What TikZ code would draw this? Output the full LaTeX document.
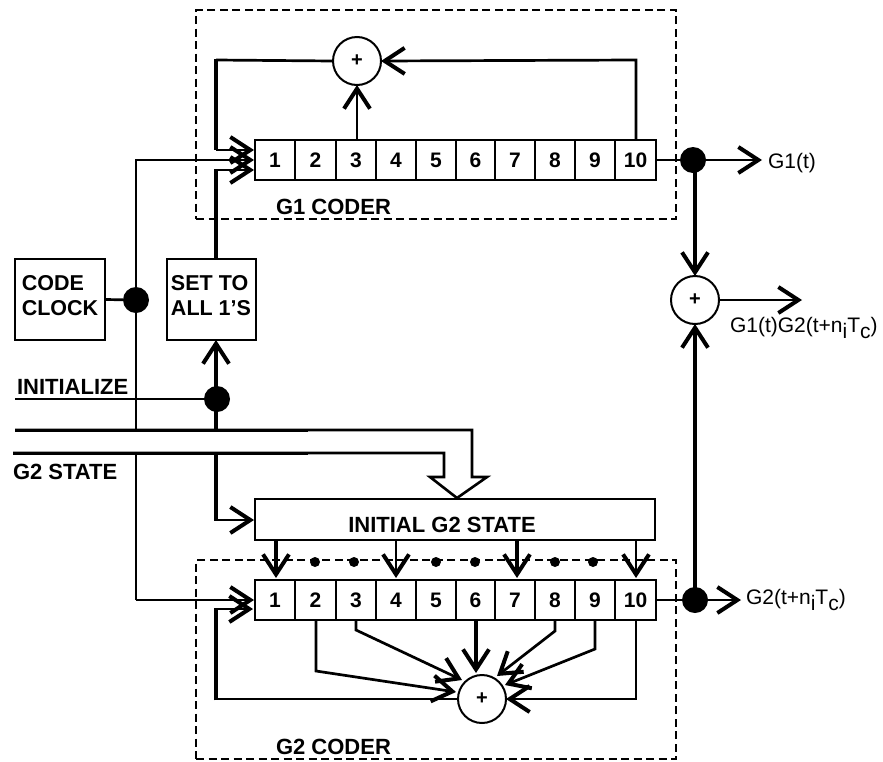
\documentclass[tikz,border=0pt]{standalone}
\usepackage{fontspec}
\setmainfont{Liberation Sans}
\usetikzlibrary{arrows.meta,calc}
\newcommand{\subtxt}[1]{\raisebox{-6pt}{#1}}
\tikzset{
  thin line/.style={line width=2.7pt},
  thick line/.style={line width=4.4pt},
  arr/.style={-{Straight Barb[length=20pt,width=26pt,line width=4pt]}},
  coder/.style={draw,line width=2.2pt,dash pattern=on 8pt off 4.5pt},
  cell/.style={draw,line width=2.6pt,minimum height=40pt,inner sep=0pt,outer sep=0pt,font=\fontsize{21}{21}\selectfont\bfseries},
  adder/.style={draw,circle,line width=2pt,fill=white,minimum size=48pt,inner sep=0pt,outer sep=0pt,font=\fontsize{20}{20}\selectfont\bfseries},
  bigdot/.style={fill=black,circle,minimum size=26pt,inner sep=0pt,outer sep=0pt},
  smalldot/.style={fill=black,circle,minimum size=10pt,inner sep=0pt,outer sep=0pt},
  ctl/.style={draw,line width=2.4pt,inner sep=0pt,outer sep=0pt},
  lbl/.style={inner sep=0pt,outer sep=0pt,font=\fontsize{22}{22}\selectfont\bfseries},
  outlbl/.style={inner sep=0pt,outer sep=0pt,anchor=west,font=\fontsize{21}{21}\selectfont},
}
\begin{document}
\begin{tikzpicture}[x=1pt,y=-1pt]
\useasboundingbox (0,0) rectangle (883,761);
% coder boxes
\node[coder,minimum width=480pt,minimum height=209pt,inner sep=0pt] (g1box) at (436,114.5) {};
\node[coder,minimum width=480pt,minimum height=199pt,inner sep=0pt] (g2box) at (436,659.5) {};
% registers
\foreach \i/\l/\r in {1/255/295,2/295/336,3/336/376,4/376/416,5/416/456,6/456/495,7/495/535,8/535/575,9/575/615,10/615/656}{
  \node[cell,minimum width={(\r-\l)*1pt}] (a\i) at ({(\l+\r)/2},160) {\raisebox{-3pt}{\i}};
  \node[cell,minimum width={(\r-\l)*1pt}] (b\i) at ({(\l+\r)/2},600) {\raisebox{-3pt}{\i}};
}
% control boxes
\node[ctl,minimum width=90pt,minimum height=81pt] (clock) at (60,299.5) {};
\node[lbl,align=left,font=\fontsize{21.5}{25}\selectfont\bfseries] (clocktxt) at (60,296) {CODE\\CLOCK};
\node[ctl,minimum width=89pt,minimum height=81pt] (setbox) at (211.5,299.5) {};
\node[lbl,align=left,font=\fontsize{21.5}{25}\selectfont\bfseries] (settxt) at (211,296) {SET TO\\ALL 1'S};
\node[ctl,minimum width=400pt,minimum height=41pt] (init) at (455,519.5) {};
\node[lbl] (inittxt) at (442,525) {INITIAL G2 STATE};
% adders
\node[adder] (add1) at (357,61) {+};
\node[adder] (add2) at (482,699) {+};
\node[adder] (add3) at (695,300) {+};
% dots
\node[bigdot] (dclk) at (136,300) {};
\node[bigdot] (dini) at (217,399) {};
\node[bigdot] (d1) at (693,160) {};
\node[bigdot] (d2) at (695,600) {};
\foreach \n/\x in {2/315,3/354,5/436,6/475,8/555,9/593}{
  \node[smalldot] (s\n) at (\x,562) {};
}
% free end coordinates
\coordinate (ini0) at (15,399);
\coordinate (busa0) at (15,430);
\coordinate (busb0) at (13,453);
\coordinate (o1) at (762,160);
\coordinate (o2) at (741,600);
\coordinate (o3) at (802,300);
% G1 feedback
\draw[thin line] (add1.west) -- (216,60);
\draw[thick line] (216,58.7) -- (216,150);
\draw[thin line,arr] (216,150) -- ($(a1.west)+(-1,-10)$);
\draw[thin line,arr] (636,140) -- (636,60) -- (add1.east);
\draw[thin line,arr] (a3.north -| 357,140) -- (add1.south);
\draw[thin line,arr] (136,600) -- (136,160) -- ($(a1.west)+(-1,0)$);
\draw[thick line] (setbox.north -| 216,259) -- (216,168.7);
\draw[thin line,arr] (216,170) -- ($(a1.west)+(-1,10)$);
% clock and init
\draw[thin line] (clock.east) -- (dclk);
\draw[thin line,arr] (136,600) -- ($(b1.west)+(-1,0)$);
\draw[thin line] (ini0) -- (dini);
\draw[thick line,arr] (216,399) -- (setbox.south -| 216,341);
\draw[thick line] (216,399) -- (216,521);
\draw[thin line,arr] (216,520) -- ($(init.west)+(-1,0.5)$);
% G2 STATE bus (hollow arrow)
\draw[line width=2.6pt,line join=miter,fill=white] (busa0) -- (472,430) -- (472,477) -- (487,477) -- (457,498) -- (430,477) -- (444,477) -- (444,453) -- (busb0);
\draw[line width=3pt] (busa0) -- (308,430);
\draw[line width=3pt] (busb0) -- (308,453);
% initial state into G2
\foreach \n/\x/\w in {1/276/thick line,4/396/thin line,7/517/thick line,10/636/thin line}{
  \draw[\w,arr] (\x,540) -- (\x,578);
}
% G2 feedback
\draw[thin line] (add2.west) -- (216,699);
\draw[thick line] (216,700.3) -- (216,607.7);
\draw[thin line,arr] (216,609) -- (253,609);
\draw[thin line,arr] (316,620) -- (316,671) -- (456,692);
\draw[thin line,arr] (356,620) -- (356,630) -- (462,680);
\draw[thick line,arr] (b6.south -| 476,620) -- (476,673);
\draw[thin line,arr] (555,620) -- (555,631) -- (497,676);
\draw[thin line,arr] (595,620) -- (595,649) -- (505,685);
\draw[thin line,arr] (636,620) -- (636,699) -- (add2.east);
% outputs
\draw[thin line,arr] (a10.east) -- (o1);
\draw[thin line,arr] (b10.east) -- (o2);
\draw[thick line,arr] (695,160) -- (add3.north);
\draw[thick line,arr] (695,600) -- (add3.south);
\draw[thin line,arr] (add3.east) -- (o3);
% labels
\node[lbl] (g1lab) at (333.5,207) {G1 CODER};
\node[lbl] (g2lab) at (333.5,747) {G2 CODER};
\node[lbl,anchor=west] (inilab) at (17,387) {INITIALIZE};
\node[lbl,anchor=west] (g2st) at (13,472) {G2 STATE};
\node[outlbl] (out1) at (768,163) {G1(t)};
\node[outlbl] (out2) at (746,600) {G2(t+n\subtxt{i}T\subtxt{c})};
\node[outlbl] (out3) at (730,328) {G1(t)G2(t+n\subtxt{i}T\subtxt{c})};
\end{tikzpicture}
\end{document}
